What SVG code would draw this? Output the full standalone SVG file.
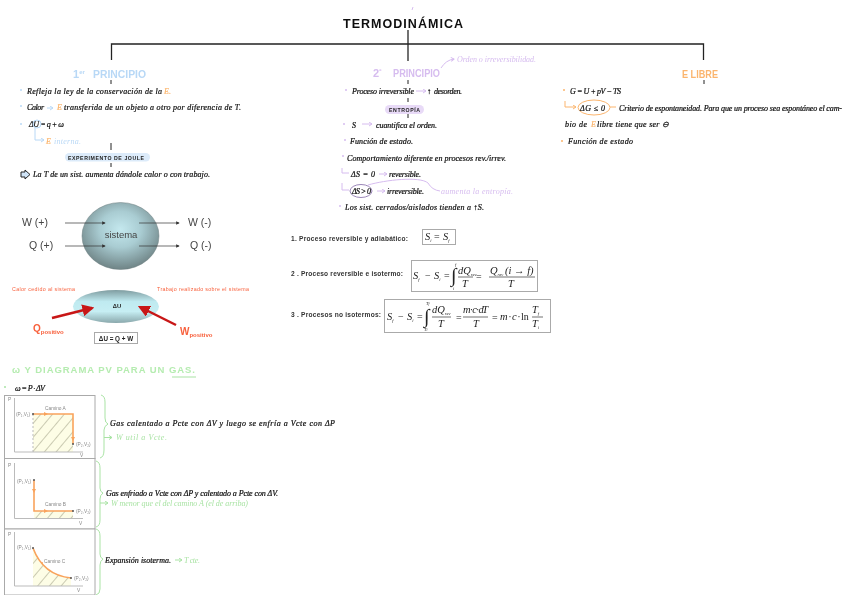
<svg xmlns="http://www.w3.org/2000/svg" width="848" height="599" viewBox="0 0 848 599">
<style>
text{white-space:pre}
.h{font-family:"Liberation Serif",serif;font-style:italic;font-size:8px;fill:#111;stroke:#111;stroke-width:.22px}
.bl{fill:#b8d8f6;stroke:none}.pu{fill:#d6bcef;stroke:none}.or{fill:#fbb56e;stroke:#fbb56e}.gr{fill:#a9e3a4;stroke:none}
.cap{font-family:"Liberation Sans",sans-serif;font-weight:700}
.a{font-family:"Liberation Sans",sans-serif;fill:#444}
.b{font-family:"Liberation Sans",sans-serif;font-weight:700;fill:#333;font-size:6.6px}
.m{font-family:"Liberation Serif",serif;font-style:italic;fill:#222;font-size:10.5px}
.n{font-size:10px;font-style:normal}
.s{font-size:4.5px}
.int{font-size:20px;font-style:normal}
.tr{stroke:#222;fill:none}
.lb{stroke:#b8d8f6;fill:none;stroke-width:1}.lp{stroke:#d6bcef;fill:none;stroke-width:1}.lo{stroke:#fbb56e;fill:none;stroke-width:1}.lg{stroke:#a9e3a4;fill:none;stroke-width:1}
.frame{fill:#fff;stroke:#aaa;stroke-width:1}.eq{fill:#fff;stroke:#aaa;stroke-width:1}
.ax{stroke:#bbb;fill:none;stroke-width:1}.path{stroke:#f9a35c;fill:none;stroke-width:1.6}
.g{font-family:"Liberation Sans",sans-serif;font-size:4.8px;fill:#888}
.k{stroke:#333;stroke-width:.7;fill:none}
.red{stroke:#c81414;stroke-width:2.4;fill:none}
.o{fill:#f8603c;font-family:"Liberation Sans",sans-serif}
</style>
<defs>
<radialGradient id="gs" cx="50%" cy="40%" r="60%"><stop offset="0" stop-color="#c4e8ee"/><stop offset=".45" stop-color="#a9ccd2"/><stop offset="1" stop-color="#6f8486"/></radialGradient>
<linearGradient id="gu" x1="0" y1="0" x2="0" y2="1"><stop offset="0" stop-color="#7f9ca0"/><stop offset=".35" stop-color="#bfeaf0"/><stop offset=".65" stop-color="#c6eef3"/><stop offset="1" stop-color="#8aa8ac"/></linearGradient>
<pattern id="hat" width="9" height="9" patternUnits="userSpaceOnUse" patternTransform="rotate(40)"><rect width="9" height="9" fill="#fdfde6"/><line x1="0" y1="0" x2="0" y2="9" stroke="#b5b59a" stroke-width="1.4"/></pattern>
<marker id="mk" markerWidth="6" markerHeight="6" refX="4" refY="2.5" orient="auto"><path d="M0 0L5 2.5L0 5z" fill="#333"/></marker>
<marker id="mr" markerWidth="5" markerHeight="5" refX="4" refY="2.5" orient="auto"><path d="M0 0L5 2.5L0 5z" fill="#c81414"/></marker>
<marker id="mb" markerWidth="6" markerHeight="6" refX="4" refY="2.5" orient="auto"><path d="M1 .5L4 2.5L1 4.5" fill="none" stroke="#b8d8f6"/></marker>
<marker id="mp" markerWidth="6" markerHeight="6" refX="4" refY="2.5" orient="auto"><path d="M1 .5L4 2.5L1 4.5" fill="none" stroke="#d6bcef"/></marker>
<marker id="mo" markerWidth="6" markerHeight="6" refX="4" refY="2.5" orient="auto"><path d="M1 .5L4 2.5L1 4.5" fill="none" stroke="#fbb56e"/></marker>
<marker id="mg" markerWidth="6" markerHeight="6" refX="4" refY="2.5" orient="auto"><path d="M1 .5L4 2.5L1 4.5" fill="none" stroke="#a9e3a4"/></marker>
<filter id="soft" x="0" y="0" width="100%" height="100%"><feGaussianBlur stdDeviation=".3"/></filter>
</defs>
<rect width="848" height="599" fill="#fff"/>
<g filter="url(#soft)">
<g id="connectors">
<path class="tr" stroke-width="1.3" d="M111.500 60V44H703.500V60"/>
<path class="tr" stroke-width="1.3" d="M408 30V61"/>
<path class="tr" d="M111 80V84M111 143V150M111 163V167M408 80V84M408 98V102M408 114V118M704 80V84"/>
</g>

<g id="title"><text x="343" y="28" class="cap" font-size="12.500" textLength="120" fill="#111">TERMODINÁMICA</text>
<path d="M413 7L412 10" stroke="#d6bcef" fill="none"/></g>

<g id="principio1">
<text x="73" y="78" class="cap" font-size="11" fill="#b8d8f6">1<tspan font-size="6" dy="-4">er</tspan></text>
<text x="93" y="78" class="cap" font-size="11" textLength="53" lengthAdjust="spacingAndGlyphs" fill="#b8d8f6">PRINCIPIO</text>
<circle cx="21" cy="90" r="1" fill="#b8d8f6"/>
<text class="h" x="27" y="94" textLength="135">Refleja la ley de la conservación de la</text><text class="h or" x="164" y="94">E.</text>
<circle cx="21" cy="106" r="1" fill="#b8d8f6"/>
<text class="h" x="27" y="110" textLength="17">Calor</text><path class="lb" marker-end="url(#mb)" d="M47 108H53"/><text class="h or" x="57" y="110">E</text>
<text class="h" x="64" y="110" textLength="177">transferida de un objeto a otro por diferencia de T.</text>
<circle cx="21" cy="124" r="1" fill="#b8d8f6"/>
<text class="h" x="29" y="127" textLength="35">ΔU = q + ω</text>
<circle class="lb" cx="37" cy="124" r="4"/><path class="lb" marker-end="url(#mb)" d="M35 128V140H44"/>
<text class="h or" x="46" y="144">E</text><text class="h bl" x="54" y="144" textLength="27">interna.</text>
<rect x="65" y="153" width="85" height="8.500" rx="4.200" fill="#dcebfa"/>
<text class="cap" x="68" y="159.500" font-size="5.200" textLength="76" fill="#222">EXPERIMENTO DE JOULE</text>
<path d="M21 172h4v-2l5 4.500l-5 4.500v-2h-4z" fill="#cfe3f6" stroke="#222" stroke-width="1"/>
<text class="h" x="33" y="177" textLength="177">La T de un sist. aumenta dándole calor o con trabajo.</text>
</g>

<g id="sistema">
<ellipse cx="120.500" cy="236" rx="38.500" ry="33.500" fill="url(#gs)" stroke="#6b7c7e" stroke-width=".5"/>
<text class="a" x="121" y="238" font-size="9.500" text-anchor="middle">sistema</text>
<path class="k" marker-end="url(#mk)" d="M65 223H105"/><path class="k" marker-end="url(#mk)" d="M65 246H105"/><path class="k" marker-end="url(#mk)" d="M139 223H179"/><path class="k" marker-end="url(#mk)" d="M139 246H179"/>
<g class="a" font-size="10.500"><text x="22" y="226">W (+)</text><text x="29" y="249">Q (+)</text><text x="188" y="226">W (-)</text><text x="190" y="249">Q (-)</text></g>
</g>

<g id="energia">
<ellipse cx="116" cy="306.500" rx="43" ry="16.500" fill="url(#gu)"/>
<text x="117" y="308" text-anchor="middle" font-family="Liberation Sans,sans-serif" font-weight="700" font-size="5.800" fill="#222">ΔU</text>
<text class="o" x="12" y="291" font-size="5.300" textLength="63">Calor cedido al sistema</text>
<text class="o" x="157" y="291" font-size="5.300" textLength="92">Trabajo realizado sobre el sistema</text>
<path class="red" marker-end="url(#mr)" d="M52 318L92 308"/><path class="red" marker-end="url(#mr)" d="M176 325L140 307"/>
<text class="o" x="33" y="332" font-size="10" font-weight="700">Q<tspan font-size="6" dy="2">positivo</tspan></text>
<text class="o" x="180" y="335" font-size="10" font-weight="700">W<tspan font-size="6" dy="2">positivo</tspan></text>
<rect class="eq" x="94.500" y="332.500" width="43" height="11"/>
<text x="116" y="340.500" text-anchor="middle" font-family="Liberation Sans,sans-serif" font-weight="700" font-size="6.300" fill="#222">ΔU = Q + W</text>
</g>

<g id="principio2">
<text x="373" y="77" class="cap" font-size="11" fill="#d6bcef">2<tspan font-size="6" dy="-4">º</tspan></text>
<text x="393" y="77" class="cap" font-size="11" textLength="47" lengthAdjust="spacingAndGlyphs" fill="#d6bcef">PRINCIPIO</text>
<path class="lp" marker-end="url(#mp)" d="M441 68Q446 60 454 59"/>
<text class="h pu" x="457" y="62" textLength="79">Orden o irreversibilidad.</text>
<circle cx="346" cy="90" r="1" fill="#d6bcef"/>
<text class="h" x="352" y="94" textLength="62">Proceso irreversible</text><path class="lp" marker-end="url(#mp)" d="M416 91H426"/><text class="h" x="427" y="94">↑</text><text class="h" x="434" y="94" textLength="28">desorden.</text>
<rect x="385" y="105" width="39" height="9" rx="4.500" fill="#e8daf7"/>
<text class="cap" x="389" y="111.700" font-size="5.200" textLength="31" fill="#222">ENTROPÍA</text>
<circle cx="344" cy="124" r="1" fill="#d6bcef"/>
<text class="h" x="352" y="128">S</text><path class="lp" marker-end="url(#mp)" d="M362 124H372"/><text class="h" x="376" y="128" textLength="61">cuantifica el orden.</text>
<circle cx="345" cy="140" r="1" fill="#d6bcef"/>
<text class="h" x="350" y="144" textLength="63">Función de estado.</text>
<circle cx="343" cy="156" r="1" fill="#d6bcef"/>
<text class="h" x="347" y="161" textLength="159">Comportamiento diferente en procesos rev./irrev.</text>
<path class="lp" d="M342 168V173H349M342 183V190H349"/>
<text class="h" x="351" y="177" textLength="24">ΔS = 0</text><path class="lp" marker-end="url(#mp)" d="M379 174H387"/><text class="h" x="389" y="177" textLength="32">reversible.</text>
<ellipse class="lp" cx="361" cy="191" rx="11" ry="6.500" style="stroke:#9a86b8"/>
<text class="h" x="352" y="194" textLength="19">ΔS &gt; 0</text><path class="lp" marker-end="url(#mp)" d="M377 191H385"/><text class="h" x="387" y="194" textLength="37">irreversible.</text>
<path class="lp" d="M368 185C385 180 420 176 428 183Q432 190 440 191"/>
<text class="h pu" x="441" y="194" textLength="72">aumenta la entropía.</text>
<circle cx="340" cy="206" r="1" fill="#d6bcef"/>
<text class="h" x="345" y="210" textLength="139">Los sist. cerrados/aislados tienden a ↑S.</text>
</g>

<g id="elibre">
<text x="682" y="78" class="cap" font-size="10.500" textLength="36" lengthAdjust="spacingAndGlyphs" fill="#fbb56e">E LIBRE</text>
<circle cx="564" cy="90" r="1" fill="#fbb56e"/>
<text class="h" x="570" y="94" textLength="51">G = U + pV − TS</text>
<path class="lo" marker-end="url(#mo)" d="M565 101V107H576"/>
<ellipse class="lo" cx="594" cy="107.500" rx="16" ry="7.500"/>
<text class="h" x="580" y="111" textLength="25">ΔG ≤ 0</text><path class="lo" d="M610 107H616"/>
<text class="h" x="619" y="111" textLength="223">Criterio de espontaneidad. Para que un proceso sea espontáneo el cam-</text>
<text class="h" x="565" y="127" textLength="22">bio de</text><text class="h or" x="591" y="127">E</text><text class="h" x="597" y="127" textLength="72">libre tiene que ser ⊖</text>
<circle cx="562" cy="141" r="1" fill="#fbb56e"/>
<text class="h" x="568" y="144" textLength="65">Función de estado</text>
</g>

<g id="eq1">
<text class="b" x="291" y="241" textLength="117">1. Proceso reversible y adiabático:</text>
<rect class="eq" x="422.500" y="229.500" width="33" height="15"/>
<text class="m" x="425" y="240">S<tspan class="s" dy="2">i</tspan></text><text class="m n" x="434" y="240">=</text><text class="m" x="443" y="240">S<tspan class="s" dy="2">f</tspan></text>
</g>

<g id="eq2">
<text class="b" x="291" y="276" textLength="112">2 . Proceso reversible e isotermo:</text>
<rect class="eq" x="411.500" y="260.500" width="126" height="31"/>
<text class="m" x="413" y="279">S<tspan class="s" dy="2">f</tspan></text><text class="m n" x="425" y="279">−</text><text class="m" x="434" y="279">S<tspan class="s" dy="2">i</tspan></text><text class="m n" x="444" y="279">=</text>
<text class="m int" x="451" y="282">∫</text><text class="m s" x="455" y="265.500">f</text><text class="m s" x="453" y="290">i</text>
<text class="m" x="458" y="274">dQ<tspan class="s" dy="2">rev</tspan></text><path class="k" d="M458 277H473"/><text class="m" x="462" y="287">T</text>
<text class="m n" x="476" y="280">=</text>
<text class="m" x="490" y="274">Q<tspan class="s" dy="2">rev</tspan></text><text class="m" x="505" y="274">(i → f)</text><path class="k" d="M489 277H535"/><text class="m" x="508" y="287">T</text>
</g>

<g id="eq3">
<text class="b" x="291" y="317" textLength="90">3 . Procesos no isotermos:</text>
<rect class="eq" x="384.500" y="299.500" width="166" height="33"/>
<text class="m" x="387" y="320">S<tspan class="s" dy="2">f</tspan></text><text class="m n" x="398" y="320">−</text><text class="m" x="407" y="320">S<tspan class="s" dy="2">i</tspan></text><text class="m n" x="417" y="320">=</text>
<text class="m int" x="424" y="323">∫</text><text class="m s" x="426" y="304.500">T<tspan font-size="3.500">f</tspan></text><text class="m s" x="424" y="331">T<tspan font-size="3.500">i</tspan></text>
<text class="m" x="432" y="313">dQ<tspan class="s" dy="2">rev</tspan></text><path class="k" d="M432 317H451"/><text class="m" x="438" y="327">T</text>
<text class="m n" x="456" y="321">=</text>
<text class="m" x="463" y="313" textLength="25" font-size="9">m · c · dT</text><path class="k" d="M463 317H488"/><text class="m" x="473" y="327">T</text>
<text class="m n" x="492" y="321">=</text>
<text class="m" x="500" y="320" textLength="20" font-size="9">m · c ·</text><text class="m n" x="521" y="320" font-size="9">ln</text>
<text class="m" x="532" y="313" font-size="9">T<tspan class="s" dy="2">f</tspan></text><path class="k" d="M532 317H543"/><text class="m" x="532" y="327" font-size="9">T<tspan class="s" dy="2">i</tspan></text>
</g>

<g id="trabajo">
<text x="12" y="373" class="cap" font-size="9.500" textLength="183" fill="#b5ecb0">ω Y DIAGRAMA PV PARA UN GAS.</text>
<path class="lg" d="M172 377H196"/>
<circle cx="5" cy="387" r="1" fill="#a9e3a4"/>
<text class="h" x="15" y="391" textLength="30">ω = P · ΔV</text>
</g>

<g id="grafica-a">
<rect class="frame" x="4.500" y="395.500" width="90.500" height="63"/>
<rect x="33" y="414" width="40" height="38" fill="url(#hat)"/>
<path class="ax" d="M14.500 398V452H83"/><path d="M33 414V452" stroke="#bbb" stroke-dasharray="2 2"/>
<path class="path" d="M33 414H73V444"/>
<path d="M44 412L48 414L44 416zM71 437L73 441L75 437z" fill="#f9a35c"/>
<circle cx="33" cy="414" r="1" fill="#555"/><circle cx="73" cy="444" r="1" fill="#555"/>
<text class="g" x="8" y="401">P</text><text class="g" x="80" y="457">V</text>
<text class="g" x="45" y="410">Camino A</text><text class="g" x="16" y="416">(P₁,V₁)</text><text class="g" x="76" y="446">(P₂,V₂)</text>
</g>
<g id="grafica-b">
<rect class="frame" x="4.500" y="458.500" width="90.500" height="70.500"/>
<rect x="34" y="511" width="39" height="7" fill="url(#hat)"/>
<path class="ax" d="M14.500 463V518.500H83"/>
<path class="path" d="M34 480V511H73"/>
<path d="M32 489L34 493L36 489zM44 509L48 511L44 513z" fill="#f9a35c"/>
<circle cx="34" cy="480" r="1" fill="#555"/><circle cx="73" cy="511" r="1" fill="#555"/>
<text class="g" x="8" y="467">P</text><text class="g" x="79" y="525">V</text>
<text class="g" x="45" y="506">Camino B</text><text class="g" x="17" y="483">(P₁,V₁)</text><text class="g" x="76" y="513">(P₂,V₂)</text>
</g>
<g id="grafica-c">
<rect class="frame" x="4.500" y="529" width="90.500" height="66"/>
<path d="M33 548Q43 575 71 578V586H33z" fill="url(#hat)"/>
<path class="ax" d="M14.500 532V586H83"/>
<path class="path" d="M33 548Q43 575 71 578"/>
<circle cx="33" cy="548" r="1" fill="#555"/><circle cx="71" cy="578" r="1" fill="#555"/><circle cx="42" cy="563" r="1" fill="#f9a35c"/>
<text class="g" x="8" y="536">P</text><text class="g" x="77" y="592">V</text>
<text class="g" x="44" y="563">Camino C</text><text class="g" x="17" y="549">(P₁,V₁)</text><text class="g" x="74" y="580">(P₂,V₂)</text>
</g>

<g id="llaves">
<path class="lg" d="M101 395Q105 396 105 402V418Q105 423 108 424Q104 426 104 430V450Q104 457 100 458"/>
<path class="lg" d="M96 461Q100 462 100 468V488Q100 492 103 493Q100 495 100 499V520Q100 526 96 527"/>
<path class="lg" d="M96 529Q100 530 100 536V554Q100 558 103 559Q100 561 100 565V589Q100 594 96 595"/>
</g>
<g id="camino-a">
<text class="h" x="110" y="426" textLength="225">Gas calentado a Pcte con ΔV y luego se enfría a Vcte con ΔP</text>
<path class="lg" marker-end="url(#mg)" d="M104 437.500H112"/><text class="h gr" x="116" y="440" textLength="51">W util a Vcte.</text>
</g>
<g id="camino-b">
<text class="h" x="106" y="496" textLength="172">Gas enfriado a Vcte con ΔP y calentado a Pcte con ΔV.</text>
<path class="lg" marker-end="url(#mg)" d="M100 503H108"/><text class="h gr" x="111" y="506" textLength="137">W menor que el del camino A (el de arriba)</text>
</g>
<g id="camino-c">
<text class="h" x="105" y="563" textLength="66">Expansión isoterma.</text>
<path class="lg" marker-end="url(#mg)" d="M175 560H182"/><text class="h gr" x="184" y="563" textLength="16">T cte.</text>
</g>
</g>
</svg>
